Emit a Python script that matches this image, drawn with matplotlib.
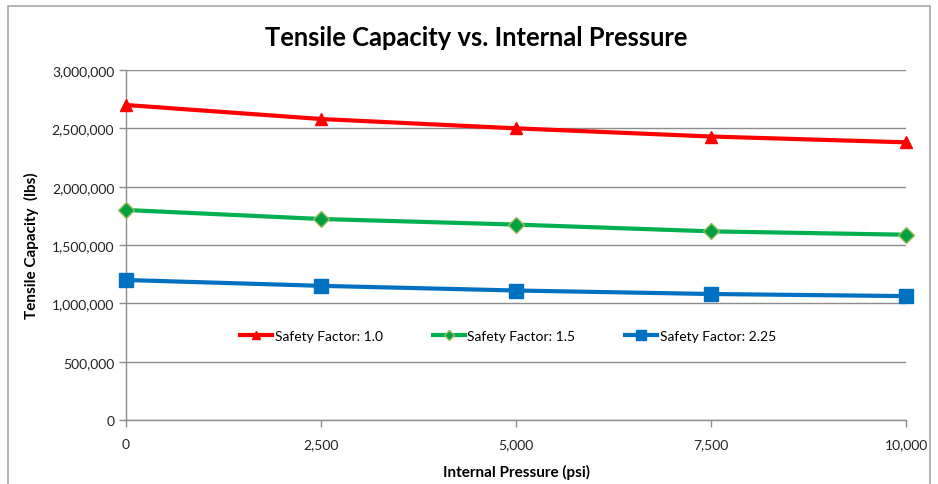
import numpy as np
import matplotlib as mpl
import matplotlib.pyplot as plt
from matplotlib.patches import Rectangle
from matplotlib.ticker import FuncFormatter

plt.rcParams['font.family'] = ['Lato', 'DejaVu Sans']

# data
pressure = [0, 2500, 5000, 7500, 10000]
sf_10 = [2700000, 2580000, 2500000, 2430000, 2380000]
sf_15 = [1800000, 1723000, 1675000, 1617000, 1588000]
sf_225 = [1200000, 1150000, 1110000, 1080000, 1062000]

fig = plt.figure(figsize=(9.38, 4.85), dpi=100)
fig.patch.set_facecolor('white')

# light frame round the chart
fig.patches.append(Rectangle((8/938, -0.05), 922/938, 1 - 7/485 + 0.05,
                             transform=fig.transFigure, fill=False,
                             edgecolor='#a6a6a6', linewidth=1.2))

ax = fig.add_axes([126/938, 1 - 421/485, 780/938, 350/485])

ax.plot(pressure, sf_10, '-', color='#ff0000', linewidth=3, marker='^',
        markersize=9, label='Safety Factor: 1.0', clip_on=False, zorder=3)
ax.plot(pressure, sf_15, '-', color='#00b050', linewidth=3, marker='D',
        markersize=8, markerfacecolor='#00a040', markeredgecolor='#9bbb59',
        markeredgewidth=1, label='Safety Factor: 1.5', clip_on=False, zorder=3)
ax.plot(pressure, sf_225, '-', color='#0070c0', linewidth=3, marker='s',
        markersize=10, label='Safety Factor: 2.25', clip_on=False, zorder=3)

ax.set_xlim(0, 10000)
ax.set_ylim(0, 3000000)
ax.set_xticks(np.arange(0, 10001, 2500))
ax.set_yticks(np.arange(0, 3000001, 500000))
fmt = FuncFormatter(lambda v, p: f'{int(v):,}')
ax.xaxis.set_major_formatter(fmt)
ax.yaxis.set_major_formatter(fmt)

ax.grid(axis='y', color='#8c8c8c', linewidth=1)
ax.set_axisbelow(True)
for s in ['top', 'right']:
    ax.spines[s].set_visible(False)
for s in ['left', 'bottom']:
    ax.spines[s].set_color('#8c8c8c')
    ax.spines[s].set_linewidth(1)
ax.tick_params(axis='both', colors='#8c8c8c', labelcolor='#222222',
               labelsize=10, length=5, width=1, direction='out')
ax.tick_params(axis='x', pad=8)

ax.set_xlabel('Internal Pressure (psi)', fontsize=11, fontweight='bold',
              labelpad=10)
ax.set_ylabel('Tensile Capacity  (lbs)', fontsize=11, fontweight='bold',
              labelpad=9)
fig.text(476/938, 1 - 38/485, 'Tensile Capacity vs. Internal Pressure',
         fontsize=18.4, fontweight='bold', ha='center', va='center')

ax.legend(loc='center', bbox_to_anchor=(0.49, 0.24), ncol=3, frameon=False,
          fontsize=10, handlelength=2.3, columnspacing=3.6, handletextpad=0.2,
          markerscale=0.7)

plt.savefig('out.png', dpi=100)
